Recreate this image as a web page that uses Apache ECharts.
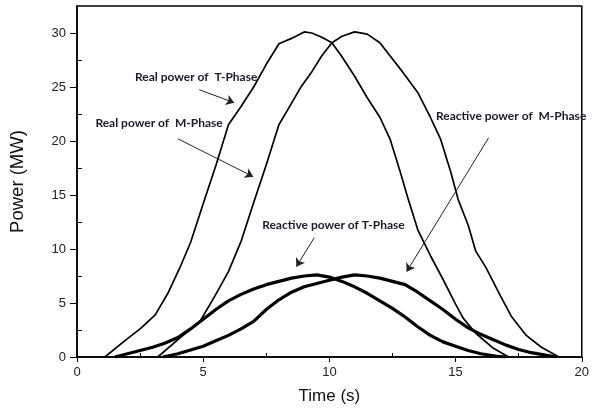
<!DOCTYPE html>
<html><head><meta charset="utf-8">
<script src="https://cdn.jsdelivr.net/npm/echarts@6/dist/echarts.min.js"></script>
<style>html,body{margin:0;padding:0;background:#fff}#c{width:592px;height:412px}</style>
</head><body><div id="c"></div>
<script>
// Real power of T-Phase
const realT_x = [1.1,2.0,2.5,3.1,3.6,4.1,4.5,5.0,5.5,6.0,6.5,7.0,7.5,8.0,8.5,9.0,9.3,9.7,10.1,10.5,11.0,11.5,12.0,12.4,12.8,13.1,13.5,14.0,14.5,15.0,15.3,15.8,16.5,17.1];
const realT_y = [0,1.7,2.6,3.9,5.9,8.4,10.6,14.2,17.7,21.5,23.2,25.0,27.1,29.0,29.5,30.1,30.0,29.6,29.1,27.8,26.0,24.0,22.2,20.2,17.2,14.8,11.8,9.4,7.2,4.9,3.6,2.2,0.8,0];
// Real power of M-Phase
const realM_x = [3.2,4.0,4.9,5.5,6.0,6.5,7.0,7.5,8.0,8.3,8.9,9.3,9.7,10.1,10.5,11.0,11.5,12.0,12.4,12.9,13.5,14.0,14.4,14.8,15.1,15.5,15.8,16.2,16.7,17.2,17.8,18.4,19.1];
const realM_y = [0,1.6,3.4,5.8,7.9,10.7,14.3,17.8,21.5,22.7,25.1,26.4,27.9,29.1,29.7,30.1,29.9,29.1,27.9,26.4,24.5,22.2,20.2,17.2,14.6,12.2,9.8,8.3,6.0,3.8,2.0,0.9,0];
// Reactive power of T-Phase
const reacT_x = [1.5,2.0,2.5,3.0,3.5,4.0,4.5,5.0,5.5,6.0,6.5,7.0,7.5,8.0,8.5,9.0,9.5,10.0,10.5,11.0,11.5,12.0,12.5,13.0,13.5,14.0,14.5,15.0,15.5,16.0,16.7,17.0];
const reacT_y = [0,0.3,0.6,0.9,1.3,1.8,2.6,3.5,4.4,5.2,5.8,6.3,6.7,7.0,7.3,7.5,7.6,7.4,7.0,6.5,5.9,5.2,4.5,3.7,2.8,2.0,1.4,1.0,0.6,0.3,0.05,0];
// Reactive power of M-Phase
const reacM_x = [3.4,4.0,4.5,5.0,5.5,6.0,6.5,7.0,7.5,8.0,8.5,9.0,9.5,10.0,10.5,11.0,11.5,12.0,12.5,13.0,13.5,14.0,14.5,15.0,15.5,16.0,16.5,17.0,17.5,18.0,18.5,19.0];
const reacM_y = [0,0.3,0.65,1.0,1.5,2.0,2.6,3.3,4.4,5.3,6.0,6.5,6.8,7.1,7.4,7.6,7.5,7.3,7.0,6.7,6.0,5.2,4.4,3.5,2.7,2.1,1.6,1.1,0.7,0.4,0.2,0];

const xTicks = [0,5,10,15,20];
const xMinorTicks = [2.5,7.5,12.5,17.5];
const yTicks = [0,5,10,15,20,25,30];
const yMinorTicks = [2.5,7.5,12.5,17.5,22.5,27.5];
const labels = ['Real power of  T-Phase','Real power of  M-Phase','Reactive power of  M-Phase','Reactive power of T-Phase'];

const pairs = (xs, ys) => xs.map((x, i) => [x, ys[i]]);
const chart = echarts.init(document.getElementById('c'));
const axisFont = {fontFamily: 'Liberation Sans', fontSize: 13, color: '#222'};
const annFont = {fontFamily: 'Lato', fontSize: 12, fontWeight: 'bold', color: '#1a1a2a'};
const mkSeries = (name, data, w) => ({
  name, type: 'line', data, symbol: 'none', smooth: false, animation: false,
  lineStyle: {color: '#000', width: w, join: 'round'}
});
const s1 = mkSeries('realT', pairs(realT_x, realT_y), 1.7);
s1.markLine = {
  silent: true, animation: false, symbol: ['none', 'arrow'], symbolSize: 8,
  label: {show: false},
  emphasis: {disabled: true},
  lineStyle: {color: '#222', width: 1, type: 'solid'},
  data: [
    [{coord: [4.84, 24.75]}, {coord: [6.23, 23.55]}],
    [{coord: [4.0, 20.2]}, {coord: [6.98, 16.7]}],
    [{coord: [16.31, 20.3]}, {coord: [13.06, 7.9]}],
    [{coord: [9.4, 11.05]}, {coord: [8.69, 8.36]}]
  ]
};
s1.markPoint = {
  silent: true, animation: false, symbol: 'circle', symbolSize: 0,
  label: Object.assign({show: true, position: 'inside', formatter: '{b}'}, annFont),
  data: [
    {name: labels[0], coord: [4.72, 25.95]},
    {name: labels[1], coord: [3.25, 21.7]},
    {name: labels[2], coord: [17.2, 22.3]},
    {name: labels[3], coord: [10.16, 12.25]}
  ]
};
chart.setOption({
  animation: false,
  grid: {left: 76, top: 6, right: 9, bottom: 55, show: true, borderColor: '#000', borderWidth: 1.5, containLabel: false},
  xAxis: [{
    type: 'value', min: 0, max: 20, interval: 5,
    name: 'Time (s)', nameLocation: 'middle', nameGap: 31,
    nameTextStyle: {fontFamily: 'Liberation Sans', fontSize: 17, color: '#111'},
    axisLine: {show: true, lineStyle: {color: '#000', width: 1.5}},
    axisTick: {show: true, inside: false, length: 5, lineStyle: {color: '#000', width: 1}, customValues: xTicks},
    axisLabel: Object.assign({margin: 9, customValues: xTicks}, axisFont),
    splitLine: {show: false}
  }, {
    type: 'value', min: 0, max: 20, position: 'bottom', gridIndex: 0,
    axisLine: {show: false, onZero: false},
    axisTick: {show: true, inside: true, length: 4, lineStyle: {color: '#000', width: 1}, customValues: xMinorTicks},
    axisLabel: {show: false}, splitLine: {show: false}
  }],
  yAxis: [{
    type: 'value', min: 0, max: 32.5, interval: 5,
    name: 'Power (MW)', nameLocation: 'middle', nameGap: 50,
    nameTextStyle: {fontFamily: 'Liberation Sans', fontSize: 18.5, color: '#111'},
    axisLine: {show: true, lineStyle: {color: '#000', width: 1.5}},
    axisTick: {show: true, inside: false, length: 7, lineStyle: {color: '#000', width: 1}, customValues: yTicks},
    axisLabel: Object.assign({margin: 11, customValues: yTicks}, axisFont),
    splitLine: {show: false}
  }, {
    type: 'value', min: 0, max: 32.5, position: 'left', gridIndex: 0,
    axisLine: {show: false, onZero: false},
    axisTick: {show: true, inside: true, length: 5, lineStyle: {color: '#000', width: 1}, customValues: yMinorTicks},
    axisLabel: {show: false}, splitLine: {show: false}
  }],
  series: [
    s1,
    mkSeries('realM', pairs(realM_x, realM_y), 1.7),
    mkSeries('reacT', pairs(reacT_x, reacT_y), 3.2),
    mkSeries('reacM', pairs(reacM_x, reacM_y), 3.2)
  ]
});
</script></body></html>
